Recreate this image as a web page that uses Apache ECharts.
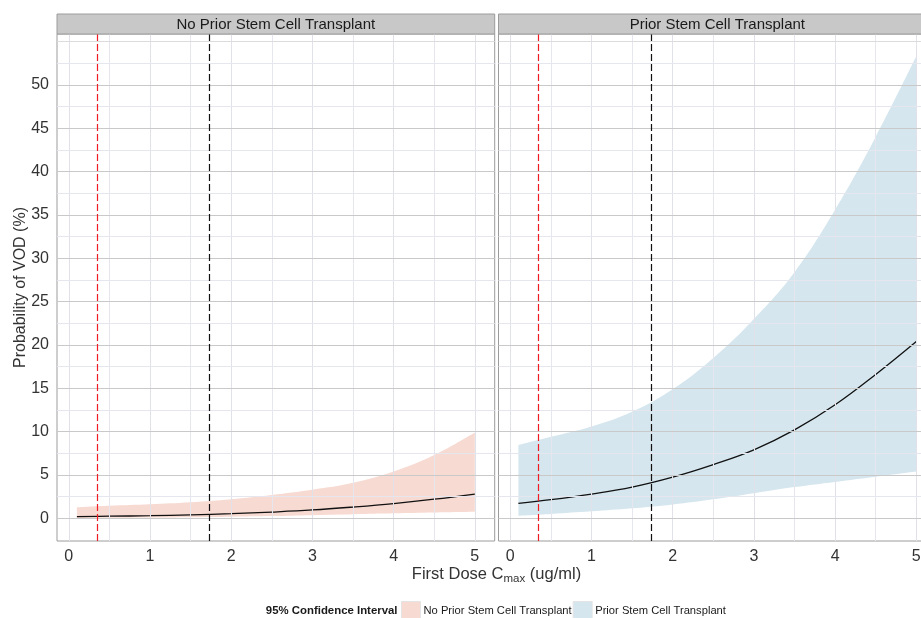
<!DOCTYPE html>
<html><head><meta charset="utf-8">
<script src="https://cdn.jsdelivr.net/npm/echarts@6/dist/echarts.min.js"></script>
<style>html,body{margin:0;padding:0;background:#fff}#c{width:921px;height:618px}</style>
</head><body><div id="c"></div>
<script>
// ---- data ----
const xs = [0.1, 0.5, 1, 1.5, 2, 2.5, 3, 3.5, 4, 4.5, 5];
const noPriorMean  = [0.2, 0.24, 0.3, 0.4, 0.53, 0.72, 0.96, 1.3, 1.7, 2.2, 2.8];
const noPriorLower = [0.03, 0.05, 0.08, 0.12, 0.18, 0.26, 0.36, 0.46, 0.57, 0.67, 0.75];
const noPriorUpper = [1.27, 1.45, 1.62, 1.85, 2.2, 2.7, 3.3, 4.1, 5.4, 7.3, 9.9];
const priorMean  = [1.73, 2.15, 2.8, 3.6, 4.75, 6.2, 7.9, 10.2, 13.1, 16.6, 20.4];
const priorLower = [0.3, 0.5, 0.8, 1.15, 1.6, 2.2, 2.9, 3.6, 4.2, 4.8, 5.4];
const priorUpper = [8.45, 9.4, 10.6, 12.3, 14.9, 18.5, 23.0, 28.4, 35.6, 44.0, 53.3];
const panelNames = ['No Prior Stem Cell Transplant', 'Prior Stem Cell Transplant'];
const xTicks = [0, 1, 2, 3, 4, 5];
const xMinorTicks = [0.5, 1.5, 2.5, 3.5, 4.5];
const yTicks = [0, 5, 10, 15, 20, 25, 30, 35, 40, 45, 50];
const yMinorTicks = [2.5, 7.5, 12.5, 17.5, 22.5, 27.5, 32.5, 37.5, 42.5, 47.5, 52.5, 55];
const refRed = 0.35;
const refBlack = 1.73;
const legendTitle = '95% Confidence Interval';
const yTitle = 'Probability of VOD (%)';

// ---- styling ----
const FONT = 'Liberation Sans, Arial, Helvetica, sans-serif';
const fills = ['#f7dad1', '#d5e6ee'];
const panelData = [
  {mean: noPriorMean, lower: noPriorLower, upper: noPriorUpper},
  {mean: priorMean, lower: priorLower, upper: priorUpper}
];
const gridLefts = [57, 498.5];
const gridW = 437.7, gridTop = 34, gridH = 507;

const grids = gridLefts.map(l => ({left: l, top: gridTop, width: gridW, height: gridH,
  outerBoundsMode: 'none', containLabel: false,
  show: true, borderColor: '#9c9c9c', borderWidth: 1, backgroundColor: 'transparent'}));

const xAxes = [0, 1].map(i => ({
  type: 'value', gridIndex: i, min: -0.145, max: 5.245,
  splitLine: {show: false}, axisLine: {show: false},
  axisTick: {show: true, length: 5, customValues: xTicks, lineStyle: {color: '#333', width: 1}},
  axisLabel: {customValues: xTicks, color: '#333', fontSize: 16, fontFamily: FONT, margin: 8}
}));
const yAxes = [0, 1].map(i => ({
  type: 'value', gridIndex: i, min: -2.62, max: 55.88,
  splitLine: {show: false}, axisLine: {show: false},
  axisTick: {show: i === 0, length: 5, customValues: yTicks, lineStyle: {color: '#333', width: 1}},
  axisLabel: {show: i === 0, customValues: yTicks, color: '#333', fontSize: 16, fontFamily: FONT, margin: 8}
}));

const SMOOTH = 0.4;
const series = [];
[0, 1].forEach(p => {
  const d = panelData[p];
  const gl = [];
  xMinorTicks.forEach(v => gl.push({xAxis: v, lineStyle: {color: '#e6e6ee', width: 1, type: 'solid'}}));
  xTicks.forEach(v => gl.push({xAxis: v, lineStyle: {color: '#e1e1ea', width: 1, type: 'solid'}}));
  yMinorTicks.forEach(v => gl.push({yAxis: v, lineStyle: {color: v === 55 ? '#dcdcdc' : '#e6e6ee', width: 1, type: 'solid'}}));
  yTicks.forEach(v => gl.push({yAxis: v, lineStyle: {color: '#c9c9c9', width: 1.1, type: 'solid'}}));
  series.push({
    type: 'line', xAxisIndex: p, yAxisIndex: p, data: [], z: 1, silent: true,
    markLine: {silent: true, symbol: ['none', 'none'], animation: false, label: {show: false}, data: gl}
  });
  // data columns are [y, x] so that the stacked dimension is y
  series.push({
    type: 'line', name: 'lower' + p, xAxisIndex: p, yAxisIndex: p, stack: 'ci' + p, z: 2,
    encode: {x: 1, y: 0},
    data: xs.map((x, i) => [d.lower[i], x]), symbol: 'none', smooth: SMOOTH,
    lineStyle: {width: 0, opacity: 0}, silent: true, animation: false
  });
  series.push({
    type: 'line', name: panelNames[p], xAxisIndex: p, yAxisIndex: p, stack: 'ci' + p, z: 2,
    encode: {x: 1, y: 0},
    data: xs.map((x, i) => [d.upper[i] - d.lower[i], x]), symbol: 'none', smooth: SMOOTH,
    color: fills[p], itemStyle: {color: fills[p]},
    lineStyle: {width: 0, opacity: 0, color: fills[p]},
    areaStyle: {color: fills[p], opacity: 1}, silent: true, animation: false
  });
  series.push({
    type: 'line', name: 'mean' + p, xAxisIndex: p, yAxisIndex: p, z: 3,
    data: xs.map((x, i) => [x, d.mean[i]]), symbol: 'none', smooth: SMOOTH,
    lineStyle: {color: '#111', width: 1.3}, silent: true, animation: false
  });
  series.push({
    type: 'line', name: 'ref' + p, xAxisIndex: p, yAxisIndex: p, data: [], z: 4, silent: true,
    markLine: {silent: true, symbol: ['none', 'none'], animation: false, label: {show: false},
      data: [
        {xAxis: refRed, lineStyle: {color: '#f01c24', width: 1.2, type: [7, 3]}},
        {xAxis: refBlack, lineStyle: {color: '#111', width: 1.2, type: [7, 3]}}
      ]}
  });
});

const chart = echarts.init(document.getElementById('c'), null, {renderer: 'canvas'});
chart.setOption({
  animation: false,
  backgroundColor: '#fff',
  textStyle: {fontFamily: FONT},
  grid: grids,
  xAxis: xAxes,
  yAxis: yAxes,
  series: series,
  legend: {
    data: panelNames.map((n, i) => ({name: n, icon: 'rect', itemStyle: {color: fills[i], borderColor: '#e4e4e4', borderWidth: 1}})),
    left: 401, top: 601, itemWidth: 19, itemHeight: 19, itemGap: 1, padding: 0,
    selectedMode: false,
    textStyle: {fontSize: 11.2, color: '#1a1a1a', fontFamily: FONT, padding: [0, 0, 0, -2]}
  },
  graphic: [
    {type: 'rect', z: 10, shape: {x: gridLefts[0], y: 14, width: gridW, height: 20}, style: {fill: '#c8c8c8', stroke: '#9c9c9c', lineWidth: 1}},
    {type: 'rect', z: 10, shape: {x: gridLefts[1], y: 14, width: gridW + 10, height: 20}, style: {fill: '#c8c8c8', stroke: '#9c9c9c', lineWidth: 1}},
    {type: 'text', z: 11, x: gridLefts[0] + gridW / 2, y: 24.5, style: {text: panelNames[0], fontSize: 15, fontFamily: FONT, fill: '#1a1a1a', align: 'center', verticalAlign: 'middle'}},
    {type: 'text', z: 11, x: gridLefts[1] + gridW / 2, y: 24.5, style: {text: panelNames[1], fontSize: 15, fontFamily: FONT, fill: '#1a1a1a', align: 'center', verticalAlign: 'middle'}},
    {type: 'text', z: 11, x: 21, y: gridTop + gridH / 2, rotation: Math.PI / 2, style: {text: yTitle, fontSize: 16, fontFamily: FONT, fill: '#333', align: 'center', verticalAlign: 'middle'}},
    {type: 'text', z: 11, x: 496.5, y: 574, style: {
      text: 'First Dose C{sub|max} (ug/ml)', fontSize: 16.5, fontFamily: FONT, fill: '#333',
      align: 'center', verticalAlign: 'middle', lineHeight: 22,
      rich: {sub: {fontSize: 11.5, fontFamily: FONT, fill: '#333', verticalAlign: 'bottom', lineHeight: 22}}}},
    {type: 'text', z: 11, x: 397.5, y: 611, style: {text: legendTitle, fontSize: 11.4, fontWeight: 'bold', fontFamily: FONT, fill: '#1a1a1a', align: 'right', verticalAlign: 'middle'}}
  ]
});
</script></body></html>
